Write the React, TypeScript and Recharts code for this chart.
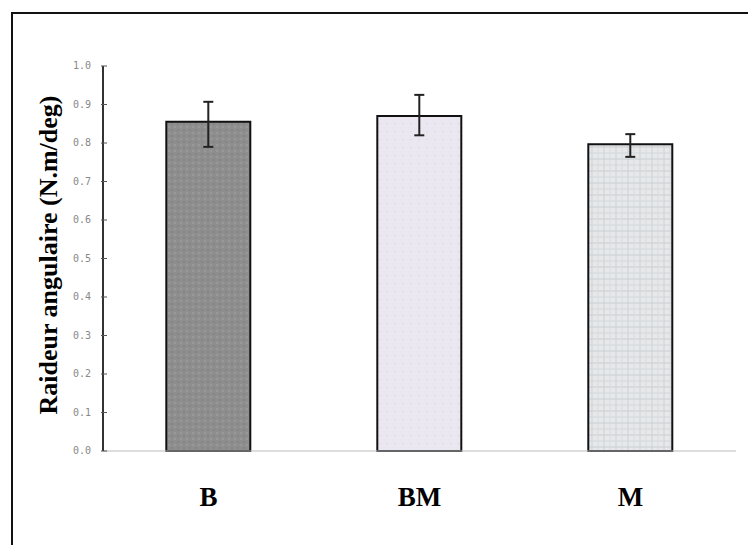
import React from "react";
import { BarChart, Bar, XAxis, YAxis, Cell, ErrorBar, Label } from "recharts";

const categories = ["B", "BM", "M"];
const means = [0.855, 0.87, 0.797];
const errLow = [0.065, 0.05, 0.033];
const errHigh = [0.052, 0.055, 0.026];
const yTicks = [0, 0.1, 0.2, 0.3, 0.4, 0.5, 0.6, 0.7, 0.8, 0.9, 1.0];
const fills = ["url(#patB)", "url(#patBM)", "url(#patM)"];

const data = categories.map((c, i) => ({
  name: c,
  value: means[i],
  err: [errLow[i], errHigh[i]],
}));

const YTick = (props: any) => {
  const { x, y, payload } = props;
  return (
    <g>
      <line x1={x + 6} x2={x + 12} y1={y} y2={y} stroke="#555" strokeWidth={1} />
      <text x={x - 4} y={y} dy={3} textAnchor="end" fontSize={10} fill="#888" fontFamily="DejaVu Sans Mono">
        {payload.value.toFixed(1)}
      </text>
    </g>
  );
};

const XTick = (props: any) => {
  const { x, y, payload } = props;
  return (
    <text x={x} y={y} dy={47} textAnchor="middle" fontSize={27} fontWeight="bold" fill="#000" fontFamily="Liberation Serif">
      {payload.value}
    </text>
  );
};

export default function App() {
  return (
    <div style={{ position: "absolute", left: 0, top: 0, width: 748, height: 545, background: "#fff", overflow: "hidden" }}>
      <div style={{ position: "absolute", left: 11, top: 12, width: 800, height: 600, borderLeft: "2px solid #111", borderTop: "2px solid #111" }} />
      <div style={{ position: "absolute", left: 0, top: 0 }}>
        <BarChart width={748} height={545} data={data} margin={{ top: 66, right: 12, left: 0, bottom: 64 }} barCategoryGap="30%">
          <defs>
            <pattern id="patB" width="6" height="6" patternUnits="userSpaceOnUse">
              <rect width="6" height="6" fill="#8e8e8e" />
              <rect x="0" y="0" width="2" height="2" fill="#999" />
              <rect x="3" y="3" width="2" height="2" fill="#858585" />
            </pattern>
            <pattern id="patBM" width="8" height="8" patternUnits="userSpaceOnUse">
              <rect width="8" height="8" fill="#ebe7f1" />
              <rect x="2" y="3" width="2" height="1" fill="#dcdbe6" />
              <rect x="6" y="6" width="1" height="1" fill="#f3eef5" />
            </pattern>
            <pattern id="patM" width="12" height="12" patternUnits="userSpaceOnUse">
              <rect width="12" height="12" fill="#e6e8ea" />
              <line x1="0" y1="3" x2="12" y2="3" stroke="#c9ced3" strokeWidth="1" />
              <line x1="0" y1="9" x2="12" y2="9" stroke="#d4d8dc" strokeWidth="1" />
              <line x1="4" y1="0" x2="4" y2="12" stroke="#cdd2d6" strokeWidth="1" />
              <line x1="10" y1="0" x2="10" y2="12" stroke="#d8dbdf" strokeWidth="1" />
            </pattern>
          </defs>
          <XAxis
            dataKey="name"
            axisLine={{ stroke: "#bbb", strokeWidth: 1 }}
            tickLine={false}
            tick={<XTick />}
            interval={0}
          />
          <YAxis
            width={103}
            domain={[0, 1]}
            ticks={yTicks}
            interval={0}
            axisLine={{ stroke: "#333", strokeWidth: 2 }}
            tickLine={false}
            tick={<YTick />}
          >
            <Label
              value="Raideur angulaire (N.m/deg)"
              angle={-90}
              position="insideLeft"
              offset={0}
              content={(p: any) => {
                const vb = p.viewBox || {};
                const cy = 255;
                return (
                  <text
                    x={48}
                    y={cy}
                    transform={`rotate(-90 48 ${cy})`}
                    textAnchor="middle"
                    dominantBaseline="central"
                    fontSize={26}
                    fontWeight="bold"
                    fontFamily="Liberation Serif"
                    fill="#000"
                  >
                    Raideur angulaire (N.m/deg)
                  </text>
                );
              }}
            />
          </YAxis>
          <Bar dataKey="value" stroke="#111" strokeWidth={2} isAnimationActive={false}>
            {data.map((d, i) => (
              <Cell key={d.name} fill={fills[i]} />
            ))}
            <ErrorBar dataKey="err" width={5} stroke="#222" strokeWidth={2} direction="y" />
          </Bar>
        </BarChart>
      </div>
    </div>
  );
}
